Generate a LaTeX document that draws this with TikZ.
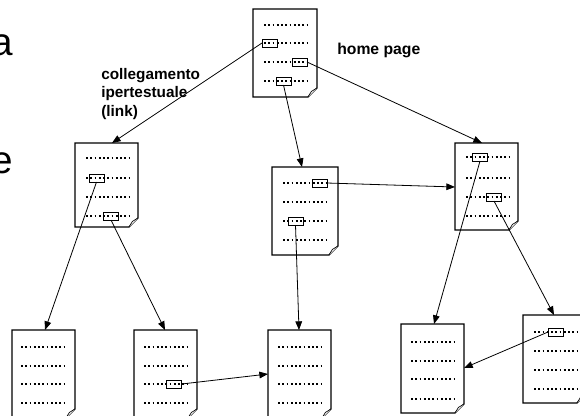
\documentclass[tikz,border=0pt]{standalone}
\usepackage{fontspec}
\setmainfont{Liberation Sans}
\usetikzlibrary{arrows.meta}
\tikzset{
  docbody/.style={draw=none, inner sep=0, outer sep=0, rectangle},
  docline/.style={line width=0.9pt, line join=miter},
  dotrow/.style={line width=1.3pt, dash pattern=on 1.3pt off 1.9pt},
  linkbox/.style={draw, line width=0.6pt, minimum width=11.25pt, minimum height=6pt, inner sep=0, outer sep=0},
  link/.style={line width=0.6pt, -{Triangle[length=6.5pt,width=5pt]}},
  bigletter/.style={font=\fontsize{29}{32}\selectfont, inner sep=0, anchor=base east},
  lbl/.style={font=\fontsize{11.5}{13.9}\selectfont\bfseries, inner sep=0, align=left},
}
\newcommand\docpage[5]{% name, left, top, right, bottom (px)
  \node[docbody, minimum width={(#4-#2)*0.75pt}, minimum height={(#5-#3)*0.75pt}] (#1) at ({(#2+#4)/2},{(#3+#5)/2}) {};
  \draw[docline, fill=white] (#1.north west) -- (#1.north east) -- ([yshift=6.75pt]#1.south east)
     -- ([xshift=-6.75pt]#1.south east) -- (#1.south west) -- cycle;
  \draw[line width=0.5pt, fill=white] ([yshift=6.75pt]#1.south east) -- ([xshift=-4.2pt,yshift=4.2pt]#1.south east)
     -- ([xshift=-6.75pt]#1.south east);
}
\newcommand\dotrows[3]{% x1, x2, list of y
  \foreach \yy in {#3} \draw[dotrow] (#1,\yy) -- (#2,\yy);
}
\begin{document}
\begin{tikzpicture}[x=0.75pt, y=-0.75pt]
\clip (0,0) rectangle (580,415);

% left-cut letters
\node[bigletter] (la) at (13.5,55) {a};
\node[bigletter] (le) at (13.5,173) {e};

% labels
\node[lbl, anchor=north west] (lnk) at (101,68) {collegamento\\ipertestuale\\(link)};
\node[lbl, anchor=base west, font=\fontsize{11.8}{14}\selectfont\bfseries] (hp) at (337,54.5) {home page};

% documents
\docpage{home}{253}{9}{317}{97}
\dotrows{264}{307}{25,43,62,81}
\node[linkbox] (h2) at (269.5,43) {};
\node[linkbox] (h3) at (299.5,62) {};
\node[linkbox] (h4) at (283.5,81) {};

\docpage{L}{75}{143}{138}{227}
\dotrows{86}{129}{158,178,197,216}
\node[linkbox] (L2) at (96.5,178) {};
\node[linkbox] (L4) at (111,216) {};

\docpage{M}{272}{167}{338}{255}
\dotrows{283}{326}{183,202,221,240}
\node[linkbox] (M1) at (319.5,183) {};
\node[linkbox] (M3) at (295.5,221) {};

\docpage{R}{455}{143}{518}{230}
\dotrows{466}{509}{157,178,197,216}
\node[linkbox] (R1) at (480,157) {};
\node[linkbox] (R3) at (494,197) {};

\docpage{A}{12}{330}{75}{418}
\dotrows{21}{65}{347,366,384,403}

\docpage{B}{134}{330}{197}{418}
\dotrows{144}{187}{347,366,384,403}
\node[linkbox] (B3) at (174,384) {};

\docpage{C}{268}{330}{331}{418}
\dotrows{278}{321}{347,366,384,403}

\docpage{D}{401}{324}{464}{413}
\dotrows{411}{454}{342,361,379,399}

\docpage{E}{523}{315}{586}{403}
\dotrows{534}{577}{332,351,370,389}
\node[linkbox] (E1) at (555.5,332) {};

% arrow targets
\coordinate (Lin) at (112,143);
\coordinate (Min) at (302,167);
\coordinate (Rin) at (482,143);
\coordinate (Rside) at (455,187);
\coordinate (Ain) at (45,330);
\coordinate (Bin) at (165,330);
\coordinate (Cin) at (299,330);
\coordinate (Cside) at (268,374);
\coordinate (Din) at (434,324);
\coordinate (Dside) at (464,368);
\coordinate (Ein) at (554,315);

% links
\draw[link] (h2.west) -- (Lin);
\draw[link] (h3.east) -- (Rin);
\draw[link] (h4.south) -- (Min);
\draw[link] (L2.south) -- (Ain);
\draw[link] (L4.south) -- (Bin);
\draw[link] (M1.east) -- (Rside);
\draw[link] (M3.south) -- (Cin);
\draw[link] (R1.south) -- (Din);
\draw[link] (R3.south) -- (Ein);
\draw[link] (B3.east) -- (Cside);
\draw[link] (E1.west) -- (Dside);
\end{tikzpicture}
\end{document}
